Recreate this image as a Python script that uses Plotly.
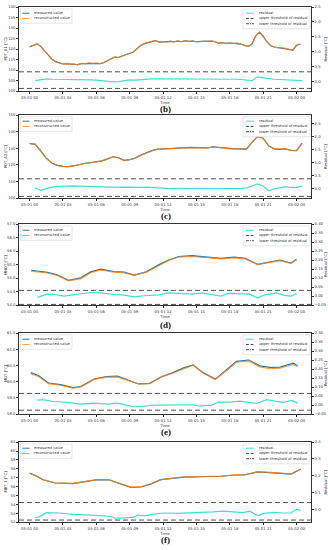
import pandas as pd
import plotly.graph_objects as go
from plotly.subplots import make_subplots

W, H = 328, 550
BASE = pd.Timestamp("2021-05-01 00:00")

# ---------------- data ----------------
# (b) PDT_A1 : 20-minute samples from 05-01 00:00
pdt_a1_recon = [121.0, 121.9, 122.6, 121.4, 119.2, 117.1, 115.3, 114.1, 113.4, 112.8, 113.1, 112.7,
                112.9, 112.5, 113.2, 113.0, 113.5, 113.2, 113.4, 113.1, 113.6, 114.6, 115.5, 116.3,
                115.9, 116.8, 117.4, 117.9, 118.7, 120.3, 121.8, 122.7, 123.1, 123.7, 124.1, 123.2,
                123.6, 123.3, 123.8, 123.4, 123.9, 123.5, 124.1, 123.6, 123.9, 123.4, 123.7, 123.8,
                123.7, 123.9, 123.6, 122.7, 123.1, 122.6, 123.0, 122.7, 122.9, 122.4, 121.7, 121.2,
                122.6, 126.4, 128.1, 126.1, 123.4, 121.6, 121.0, 120.6, 120.8, 120.3, 119.9, 119.4,
                121.9, 122.4]
pdt_a1_meas = [121.1, 121.9, 122.5, 121.3, 119.1, 117.2, 115.2, 114.0, 113.4, 112.9, 113.0, 112.8,
               112.9, 112.6, 113.1, 113.1, 113.4, 113.2, 113.3, 113.1, 113.5, 114.6, 115.4, 116.2,
               116.0, 116.7, 117.3, 118.0, 118.6, 120.2, 121.7, 122.6, 123.1, 123.6, 124.0, 123.3,
               123.5, 123.4, 123.7, 123.5, 123.8, 123.5, 124.0, 123.7, 123.8, 123.5, 123.6, 123.7,
               123.8, 123.8, 123.5, 122.8, 123.0, 122.7, 122.9, 122.8, 122.8, 122.4, 121.7, 121.3,
               122.5, 126.3, 128.0, 126.2, 123.5, 121.7, 121.0, 120.7, 120.7, 120.3, 120.0, 119.5,
               121.8, 122.3]
# residual : half-hour samples from 00:30
pdt_a1_resid = [0.02, 0.05, 0.08, 0.07, 0.07, 0.06, 0.06, 0.05, 0.05, 0.05, 0.05, 0.04, 0.02, 0.0,
                -0.02, -0.01, 0.02, 0.05, 0.04, 0.06, 0.07, 0.08, 0.08, 0.08, 0.07, 0.08, 0.08, 0.09,
                0.08, 0.09, 0.08, 0.08, 0.07, 0.07, 0.08, 0.08, 0.07, 0.06, 0.05, 0.02, 0.15, 0.11,
                0.09, 0.07, 0.06, 0.06, 0.05, 0.04, 0.02]

# (c) PDT_A2 : half-hour samples from 05-01 00:00
pdt_a2_recon = [132.8, 132.5, 128.5, 124.0, 121.0, 119.6, 119.0, 118.9, 119.4, 120.3, 120.9, 121.3,
                121.6, 122.3, 123.5, 124.8, 124.2, 122.6, 123.1, 124.0, 125.8, 127.2, 128.5, 129.4,
                129.5, 129.8, 130.0, 130.3, 130.4, 130.5, 130.4, 130.3, 130.2, 130.8, 130.5, 129.9,
                129.6, 129.7, 129.6, 129.5, 133.5, 137.0, 136.0, 131.5, 129.6, 129.4, 129.6, 128.8,
                128.6, 133.0]
pdt_a2_meas = [132.9, 132.4, 128.4, 124.1, 121.1, 119.7, 119.1, 119.0, 119.5, 120.4, 121.0, 121.4,
               121.7, 122.4, 123.6, 124.9, 124.3, 122.7, 123.2, 124.1, 125.9, 127.3, 128.6, 129.5,
               129.5, 129.8, 130.0, 130.3, 130.4, 130.5, 130.4, 130.3, 130.2, 130.8, 130.5, 129.9,
               129.6, 129.7, 129.6, 129.5, 133.6, 137.2, 136.1, 131.4, 129.6, 129.4, 129.7, 128.8,
               128.6, 133.1]
# residual : half-hour samples from 00:30
pdt_a2_resid = [0.03, -0.07, 0.0, 0.06, 0.09, 0.10, 0.11, 0.11, 0.10, 0.09, 0.08, 0.08, 0.07, 0.06,
                0.06, 0.05, 0.06, 0.05, 0.06, 0.05, 0.06, 0.05, 0.05, 0.02, 0.0, 0.01, 0.0, 0.01,
                0.0, 0.0, -0.01, 0.0, -0.01, -0.01, 0.0, -0.01, 0.0, 0.01, 0.03, 0.10, 0.18, 0.10,
                -0.08, -0.01, 0.04, 0.08, 0.04, 0.05, 0.10]

# (d) MNDT
mndt_hours = [0.15, 1.6, 2.5, 3.5, 4.6, 5.5, 6.4, 7.6, 8.5, 9.4, 10.5, 11.6, 12.5, 13.4, 14.6, 15.5,
              17.2, 18.4, 19.4, 20.5, 21.6, 22.5, 23.5, 24.0]
mndt_recon = [55.26, 55.19, 55.10, 54.90, 54.98, 55.20, 55.30, 55.22, 55.20, 55.10, 55.22, 55.47,
              55.65, 55.78, 55.80, 55.78, 55.71, 55.75, 55.71, 55.50, 55.57, 55.65, 55.55, 55.68]
mndt_meas = [55.29, 55.21, 55.12, 54.92, 55.01, 55.23, 55.33, 55.24, 55.22, 55.11, 55.23, 55.49,
             55.67, 55.80, 55.83, 55.80, 55.73, 55.78, 55.73, 55.51, 55.59, 55.67, 55.56, 55.70]
mndt_resid_hours = [0.7, 1.6, 2.3, 3.1, 3.7, 4.6, 5.5, 6.4, 7.3, 8.5, 9.4, 10.3, 11.6, 12.5, 13.7,
                    14.6, 15.5, 16.4, 17.2, 17.9, 19.2, 19.8, 20.5, 21.1, 22.2, 22.9, 23.5, 24.0]
mndt_resid = [-0.007, 0.011, 0.009, 0.0, 0.006, 0.015, 0.020, 0.018, 0.011, 0.006, -0.004, 0.002,
              0.007, 0.018, 0.015, 0.011, 0.018, 0.009, 0.0, 0.015, 0.015, 0.011, -0.011, 0.006,
              0.018, 0.004, 0.0, 0.013]

# (e) MDT
mdt_hours = [0.1, 0.8, 1.7, 2.8, 3.9, 4.6, 5.8, 6.9, 7.9, 8.7, 9.8, 10.8, 11.9, 12.9, 13.8, 14.7,
             15.6, 16.7, 17.7, 18.6, 19.7, 20.7, 21.6, 22.5, 23.7, 24.1]
mdt_recon = [60.25, 60.16, 59.94, 59.89, 59.80, 59.84, 60.07, 60.14, 60.15, 60.05, 59.93, 59.94,
             60.15, 60.27, 60.40, 60.51, 60.27, 60.07, 60.34, 60.60, 60.64, 60.46, 60.40, 60.42,
             60.53, 60.47]
mdt_meas = [60.28, 60.19, 59.96, 59.91, 59.82, 59.85, 60.08, 60.16, 60.17, 60.06, 59.93, 59.95,
            60.16, 60.28, 60.42, 60.52, 60.28, 60.08, 60.36, 60.63, 60.67, 60.49, 60.44, 60.45,
            60.57, 60.49]
mdt_resid_hours = [0.7, 1.2, 2.1, 3.4, 4.6, 5.8, 7.0, 7.9, 8.7, 9.3, 10.2, 11.1, 12.0, 12.9, 14.7,
                   15.3, 16.4, 17.0, 18.0, 18.9, 19.8, 20.4, 21.3, 22.2, 22.8, 23.6, 24.1]
mdt_resid = [0.028, 0.030, 0.020, 0.015, 0.006, 0.011, 0.006, 0.011, 0.0, -0.009, -0.007, 0.0, 0.0,
             0.002, 0.002, -0.006, 0.0, 0.017, 0.017, 0.022, 0.015, 0.009, 0.030, 0.022, 0.015,
             0.026, 0.011]

# (f) MBT_1
mbt_hours = [0.0, 0.6, 1.2, 2.3, 3.9, 5.0, 6.1, 7.1, 8.2, 9.1, 10.0, 10.9, 11.8, 12.7, 13.9, 15.5,
             17.2, 18.5, 19.3, 20.5, 21.4, 22.3, 23.5, 24.4]
mbt_recon = [57.52, 57.22, 56.78, 56.42, 56.35, 56.57, 56.79, 56.79, 56.31, 55.94, 55.98, 56.31,
             56.79, 56.94, 57.09, 57.13, 57.17, 57.31, 57.31, 57.68, 57.57, 57.54, 57.42, 57.98]
mbt_meas = [57.50, 57.19, 56.76, 56.40, 56.33, 56.55, 56.77, 56.76, 56.27, 55.90, 55.95, 56.28,
            56.77, 56.92, 57.07, 57.11, 57.16, 57.30, 57.30, 57.65, 57.55, 57.52, 57.40, 57.98]
mbt_resid_hours = [0.5, 0.9, 1.5, 2.7, 3.9, 5.1, 6.4, 7.3, 7.7, 8.2, 8.8, 9.4, 9.7, 10.3, 11.0, 12.1,
                   13.3, 14.9, 16.5, 17.4, 18.3, 19.2, 19.8, 20.5, 21.1, 21.9, 22.8, 23.5, 24.0, 24.4]
mbt_resid = [-0.048, -0.044, -0.019, -0.021, -0.029, -0.031, -0.037, -0.042, -0.052, -0.052,
             -0.048, -0.046, -0.033, -0.038, -0.029, -0.021, -0.023, -0.021, -0.015, -0.010,
             -0.013, -0.019, -0.010, -0.037, -0.023, -0.017, -0.021, -0.021, 0.002, -0.006]

upper_thresholds = [0.32, 0.38, 0.032, 0.065, 0.041]
lower_thresholds = [-0.24, -0.30, -0.046, -0.028, -0.063]

captions = ["(b)", "(c)", "(d)", "(e)", "(f)"]
y_titles = ["PDT_A1 [°C]", "PDT_A2 [°C]", "MNDT [°C]", "MDT [°C]", "MBT_1 [°C]"]
right_title = "Residual [°C]"
left_ranges = [[99.95, 140.05], [99.9, 150.1], [53.995, 57.005], [58.995, 61.505], [51.98, 61.02]]
left_dticks = [5, 10, 0.5, 0.5, 1]
left_formats = ["", "", ".1f", ".1f", ""]
right_ranges = [[-0.333, 2.505], [-0.37, 2.845], [-0.0505, 0.4005], [-0.0505, 0.4005], [-0.076, 0.401]]
right_dticks = [0.5, 0.5, 0.05, 0.05, 0.1]
right_formats = [".1f", ".1f", ".2f", ".2f", ".1f"]

# ---------------- helpers ----------------
def at_hours(hours):
    return [BASE + pd.Timedelta(hours=h) for h in hours]

def steps(start_h, step_h, n):
    return [start_h + i * step_h for i in range(n)]

panels = [
    dict(t=at_hours(steps(0, 1 / 3, len(pdt_a1_recon))), meas=pdt_a1_meas, recon=pdt_a1_recon,
         rt=at_hours(steps(0.5, 0.5, len(pdt_a1_resid))), resid=pdt_a1_resid),
    dict(t=at_hours(steps(0, 0.5, len(pdt_a2_recon))), meas=pdt_a2_meas, recon=pdt_a2_recon,
         rt=at_hours(steps(0.5, 0.5, len(pdt_a2_resid))), resid=pdt_a2_resid),
    dict(t=at_hours(mndt_hours), meas=mndt_meas, recon=mndt_recon,
         rt=at_hours(mndt_resid_hours), resid=mndt_resid),
    dict(t=at_hours(mdt_hours), meas=mdt_meas, recon=mdt_recon,
         rt=at_hours(mdt_resid_hours), resid=mdt_resid),
    dict(t=at_hours(mbt_hours), meas=mbt_meas, recon=mbt_recon,
         rt=at_hours(mbt_resid_hours), resid=mbt_resid),
]

C_MEAS = "#1f77b4"
C_RECON = "rgba(255,127,14,0.8)"
C_RESID = "#40E0D0"
C_THR = "#505050"
FONT = "DejaVu Sans"
FS = 3.8
FS_LEG = 3.6
TXT = "#333"

# layout geometry (pixels)
TOPS = [4, 113, 223, 333, 443]
BOTTOMS = [89, 197, 305, 415, 524]
LEFT, RIGHT = 19, 311
CAP_Y = [107, 215, 325, 433, 542]

def px(x):
    return x / W

def py(y):
    return 1 - y / H

fig = make_subplots(rows=5, cols=1, specs=[[{"secondary_y": True}]] * 5)

shapes = []
annotations = []

for i, p in enumerate(panels):
    r = i + 1
    fig.add_trace(go.Scatter(x=p["t"], y=p["meas"], mode="lines", name="measured value",
                             line=dict(color=C_MEAS, width=1.2), showlegend=False),
                  row=r, col=1, secondary_y=False)
    fig.add_trace(go.Scatter(x=p["t"], y=p["recon"], mode="lines", name="reconstructed value",
                             line=dict(color=C_RECON, width=1.2), showlegend=False),
                  row=r, col=1, secondary_y=False)
    fig.add_trace(go.Scatter(x=p["rt"], y=p["resid"], mode="lines", name="residual",
                             line=dict(color=C_RESID, width=1.2), showlegend=False),
                  row=r, col=1, secondary_y=True)

    xname = "xaxis" if r == 1 else f"xaxis{r}"
    xref = "x" if r == 1 else f"x{r}"
    ly = "yaxis" if r == 1 else f"yaxis{2 * r - 1}"
    ry = f"yaxis{2 * r}"
    ryref = f"y{2 * r}"

    dom_y = [py(BOTTOMS[i]), py(TOPS[i])]
    tick_common = dict(ticks="outside", ticklen=2, tickwidth=0.5, tickcolor=TXT,
                       tickfont=dict(size=FS, color=TXT, family=FONT),
                       showline=True, linecolor=TXT, linewidth=0.6,
                       showgrid=False, zeroline=False)
    fig.layout[xname].update(
        domain=[px(LEFT), px(RIGHT)], type="date",
        range=[BASE - pd.Timedelta(hours=0.95), BASE + pd.Timedelta(hours=25.3)],
        tick0=BASE, dtick=3 * 3600 * 1000, tickformat="%m-%d %H", mirror=True,
        title=dict(text="Time", font=dict(size=FS, color=TXT, family=FONT), standoff=1),
        **tick_common,
    )
    fig.layout[ly].update(
        domain=dom_y, range=left_ranges[i], dtick=left_dticks[i], tick0=0,
        tickformat=left_formats[i], **tick_common,
    )
    fig.layout[ry].update(
        domain=dom_y, range=right_ranges[i], dtick=right_dticks[i], tick0=0,
        tickformat=right_formats[i], side="right", **tick_common,
    )

    mid = (TOPS[i] + BOTTOMS[i]) / 2
    # axis titles
    annotations.append(dict(text=y_titles[i], xref="paper", yref="paper",
                            x=px(5.5), y=py(mid), showarrow=False, textangle=-90,
                            xanchor="center", yanchor="middle",
                            font=dict(size=FS, color=TXT, family=FONT)))
    annotations.append(dict(text=right_title, xref="paper", yref="paper",
                            x=px(325.5), y=py(mid), showarrow=False, textangle=-90,
                            xanchor="center", yanchor="middle",
                            font=dict(size=FS, color=TXT, family=FONT)))

    # threshold lines (span whole axis width)
    shapes.append(dict(type="line", xref=f"{xref} domain", yref=ryref, x0=0, x1=1,
                       y0=upper_thresholds[i], y1=upper_thresholds[i],
                       line=dict(color=C_THR, width=1, dash="5px,3px")))
    shapes.append(dict(type="line", xref=f"{xref} domain", yref=ryref, x0=0, x1=1,
                       y0=lower_thresholds[i], y1=lower_thresholds[i],
                       line=dict(color=C_THR, width=1, dash="5px,3px")))

    # caption
    annotations.append(dict(text=f"<b>{captions[i]}</b>", xref="paper", yref="paper",
                            x=0.505, y=py(CAP_Y[i]), showarrow=False, xanchor="center",
                            yanchor="middle",
                            font=dict(family="Liberation Serif", size=9, color="#111")))

    # legends (matplotlib-style boxes)
    t = TOPS[i]
    left_items = [("measured value", C_MEAS, "solid"), ("reconstructed value", C_RECON, "solid")]
    right_items = [("residual", C_RESID, "solid"),
                   ("upper threshold of residual", C_THR, "3px,1.5px"),
                   ("lower threshold of residual", C_THR, "3px,1px,1px,1px")]
    for items, bx0, bx1, bh, sx0, sx1, tx in [
        (left_items, 20.5, 72, 14.5, 22.5, 29.5, 31.5),
        (right_items, 243, 310, 20, 246, 254, 256.5),
    ]:
        shapes.append(dict(type="rect", xref="paper", yref="paper",
                           x0=px(bx0), x1=px(bx1), y0=py(t + 2), y1=py(t + 2 + bh),
                           fillcolor="rgba(255,255,255,0.8)",
                           line=dict(color="#cccccc", width=0.5)))
        for k, (label, col, dash) in enumerate(items):
            yy = t + 6.3 + k * 5.3
            shapes.append(dict(type="line", xref="paper", yref="paper",
                               x0=px(sx0), x1=px(sx1), y0=py(yy), y1=py(yy),
                               line=dict(color=col, width=1, dash=dash)))
            annotations.append(dict(text=label, xref="paper", yref="paper",
                                    x=px(tx), y=py(yy), showarrow=False,
                                    xanchor="left", yanchor="middle",
                                    font=dict(size=FS_LEG, color=TXT, family=FONT)))

fig.update_layout(
    width=W, height=H, autosize=False,
    margin=dict(l=0, r=0, t=0, b=0),
    paper_bgcolor="white", plot_bgcolor="white",
    showlegend=False,
    shapes=shapes, annotations=annotations,
    font=dict(family=FONT, size=FS, color=TXT),
)

fig.write_html(
    "out.html",
    config={"displayModeBar": False},
    post_script="document.body.style.margin='0';document.body.style.overflow='hidden';",
)
